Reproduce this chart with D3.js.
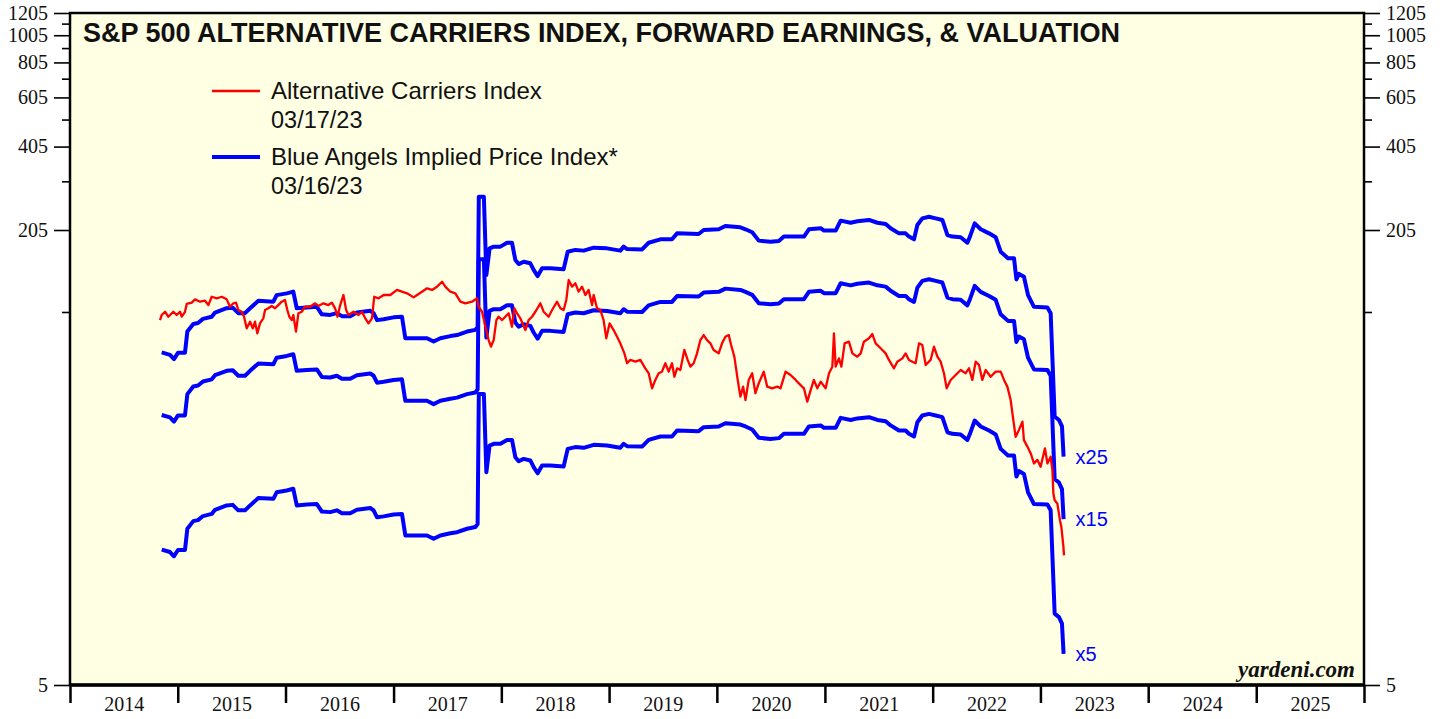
<!DOCTYPE html>
<html><head><meta charset="utf-8">
<script src="https://cdn.jsdelivr.net/npm/d3@7"></script>
<style>body{margin:0;background:#fff;} svg{display:block;}</style>
</head><body><svg id="c" width="1446" height="719"></svg>
<script>
// ---- DATA ----
const redYears = [2014.835,2014.851,2014.882,2014.912,2014.959,2014.990,2015.021,2015.037,2015.067,2015.083,2015.130,2015.160,2015.207,2015.253,2015.284,2015.315,2015.362,2015.408,2015.454,2015.485,2015.516,2015.541,2015.562,2015.594,2015.615,2015.640,2015.671,2015.696,2015.717,2015.738,2015.763,2015.794,2015.810,2015.840,2015.872,2015.903,2015.933,2015.965,2015.995,2016.017,2016.035,2016.058,2016.072,2016.097,2016.119,2016.150,2016.181,2016.227,2016.274,2016.304,2016.351,2016.397,2016.429,2016.459,2016.481,2016.506,2016.536,2016.561,2016.583,2016.629,2016.676,2016.707,2016.738,2016.768,2016.800,2016.821,2016.861,2016.908,2016.970,2017.032,2017.078,2017.125,2017.186,2017.218,2017.264,2017.310,2017.357,2017.403,2017.450,2017.480,2017.527,2017.573,2017.620,2017.666,2017.728,2017.775,2017.789,2017.821,2017.852,2017.882,2017.904,2017.929,2017.954,2017.975,2018.007,2018.037,2018.068,2018.099,2018.121,2018.146,2018.176,2018.223,2018.253,2018.285,2018.316,2018.362,2018.393,2018.439,2018.471,2018.517,2018.548,2018.578,2018.603,2018.625,2018.656,2018.687,2018.717,2018.749,2018.780,2018.810,2018.842,2018.857,2018.888,2018.919,2018.949,2018.974,2019.005,2019.042,2019.074,2019.104,2019.142,2019.167,2019.197,2019.244,2019.290,2019.336,2019.367,2019.399,2019.429,2019.460,2019.491,2019.522,2019.553,2019.584,2019.606,2019.631,2019.661,2019.698,2019.729,2019.754,2019.785,2019.816,2019.847,2019.878,2019.909,2019.940,2019.970,2020.017,2020.048,2020.079,2020.110,2020.132,2020.162,2020.193,2020.218,2020.243,2020.265,2020.295,2020.327,2020.357,2020.388,2020.434,2020.466,2020.512,2020.559,2020.589,2020.636,2020.682,2020.729,2020.775,2020.806,2020.837,2020.868,2020.898,2020.930,2020.961,2021.007,2021.038,2021.069,2021.084,2021.100,2021.130,2021.153,2021.183,2021.223,2021.255,2021.301,2021.332,2021.362,2021.409,2021.440,2021.471,2021.517,2021.564,2021.594,2021.641,2021.672,2021.719,2021.749,2021.780,2021.812,2021.842,2021.873,2021.904,2021.935,2021.981,2022.012,2022.044,2022.074,2022.105,2022.130,2022.167,2022.213,2022.260,2022.306,2022.337,2022.368,2022.399,2022.430,2022.461,2022.492,2022.538,2022.585,2022.631,2022.662,2022.693,2022.724,2022.740,2022.770,2022.801,2022.833,2022.847,2022.879,2022.910,2022.940,2022.972,2023.002,2023.042,2023.065,2023.095,2023.111,2023.120,2023.132,2023.157,2023.181,2023.194,2023.213,2023.219];
const redValues = [98.3,102.4,105.2,101.0,105.2,102.4,105.2,101.0,105.2,112.1,113.3,116.4,114.2,115.1,111.1,118.9,117.4,118.9,116.4,109.6,112.7,113.3,106.7,105.2,101.0,91.9,97.0,91.9,97.0,88.2,95.7,99.7,106.7,108.2,110.3,108.2,111.1,114.2,115.8,106.7,101.0,98.3,102.4,89.4,103.9,105.2,109.6,109.6,112.7,110.3,112.7,111.1,113.3,108.2,101.0,111.1,120.6,106.7,102.4,105.2,102.4,105.2,99.7,95.7,99.7,118.9,117.4,120.6,120.6,125.7,123.9,122.3,118.3,120.6,123.9,127.4,125.7,129.1,134.4,129.1,123.9,122.3,114.2,112.7,114.2,117.4,109.6,105.2,93.1,83.5,79.1,83.5,98.3,101.0,98.3,101.0,103.9,93.1,108.2,103.9,99.7,90.6,98.3,101.0,105.2,112.7,105.2,101.0,106.7,114.2,108.2,106.7,115.8,136.3,129.1,132.7,123.9,129.1,120.6,125.7,111.1,120.6,108.2,106.7,98.3,84.7,95.7,90.6,85.8,81.3,74.9,69.1,71.0,70.0,71.0,66.3,63.7,56.3,60.3,63.7,64.5,69.1,64.5,69.1,61.9,66.3,65.4,77.0,71.0,67.2,69.1,74.9,83.5,87.0,83.5,81.3,77.0,74.9,81.3,85.8,87.0,80.2,72.9,60.3,52.6,57.1,51.2,60.3,63.7,54.1,58.7,64.5,57.1,56.3,57.1,56.3,64.5,62.8,60.3,57.8,56.3,50.5,55.5,60.3,56.3,59.4,56.3,63.7,67.2,88.2,67.2,71.9,67.2,81.3,82.4,74.9,72.9,74.9,82.4,84.7,87.7,81.3,78.1,74.9,71.0,66.3,70.0,71.9,74.9,71.0,70.0,69.1,81.3,80.2,68.1,71.0,79.1,72.9,70.0,63.7,56.3,60.3,62.8,65.4,63.7,66.3,60.3,70.0,68.1,60.3,65.4,61.9,64.5,64.5,60.3,57.1,51.2,45.9,37.9,40.1,42.9,36.9,35.0,33.1,30.5,31.4,29.7,34.5,30.5,32.2,28.9,23.9,22.6,22.0,19.2,18.2,15.5,14.4];

// forward earnings per share (index points)
const earnYears = [2014.851,2014.928,2014.965,2015.002,2015.067,2015.089,2015.144,2015.188,2015.234,2015.315,2015.346,2015.454,2015.510,2015.562,2015.624,2015.671,2015.748,2015.887,2015.918,2016.011,2016.072,2016.104,2016.197,2016.290,2016.336,2016.413,2016.475,2016.522,2016.599,2016.661,2016.784,2016.815,2016.847,2016.908,2017.000,2017.078,2017.109,2017.218,2017.310,2017.372,2017.434,2017.527,2017.589,2017.682,2017.759,2017.780,2017.791,2017.838,2017.861,2017.891,2017.929,2017.991,2018.053,2018.099,2018.130,2018.161,2018.207,2018.269,2018.300,2018.337,2018.378,2018.455,2018.578,2018.616,2018.687,2018.764,2018.857,2018.981,2019.104,2019.135,2019.167,2019.306,2019.367,2019.476,2019.584,2019.631,2019.831,2019.878,2020.017,2020.079,2020.218,2020.265,2020.327,2020.388,2020.497,2020.574,2020.620,2020.806,2020.852,2020.961,2020.991,2021.100,2021.146,2021.239,2021.301,2021.409,2021.487,2021.564,2021.610,2021.687,2021.749,2021.780,2021.827,2021.858,2021.904,2021.966,2022.028,2022.090,2022.137,2022.183,2022.260,2022.322,2022.346,2022.390,2022.446,2022.523,2022.585,2022.631,2022.699,2022.755,2022.777,2022.801,2022.847,2022.885,2022.940,2023.065,2023.095,2023.132,2023.172,2023.200,2023.215];
const earnValues = [3.02,2.96,2.86,3.01,3.01,3.58,3.81,3.84,3.97,4.04,4.18,4.33,4.35,4.16,4.16,4.33,4.60,4.57,4.82,4.89,4.96,4.33,4.36,4.38,4.12,4.10,4.16,4.06,4.06,4.18,4.24,4.16,3.93,3.96,4.02,4.04,3.39,3.39,3.39,3.30,3.39,3.45,3.48,3.58,3.63,3.72,10.76,10.76,5.68,7.06,7.16,7.16,7.39,7.39,6.42,6.21,6.33,6.25,5.92,5.63,6.00,6.00,5.95,6.87,6.97,6.93,7.10,7.06,6.93,7.16,7.02,7.00,7.39,7.60,7.60,7.98,7.94,8.20,8.25,8.47,8.38,8.25,8.05,7.52,7.45,7.50,7.77,7.77,8.25,8.32,8.16,8.16,8.85,8.70,8.81,8.90,8.70,8.61,8.32,7.98,7.98,7.77,7.60,8.54,9.02,9.14,9.02,8.90,7.87,7.77,7.73,7.39,7.77,8.66,8.25,7.98,7.73,6.87,6.51,6.51,5.48,5.73,5.60,4.82,4.38,4.36,4.16,1.79,1.74,1.65,1.29];

const multiples = [25, 15, 5];
const multipleLabels = ["x25", "x15", "x5"];
const yearLabels = [2014,2015,2016,2017,2018,2019,2020,2021,2022,2023,2024,2025];
const yTicks = [5,105,205,305,405,505,605,705,805,905,1005,1105,1205];
const yLabeled = [5,205,405,605,805,1005,1205];
const titleText = "S&P 500 ALTERNATIVE CARRIERS INDEX, FORWARD EARNINGS, & VALUATION";
const legendNames = ["Alternative Carriers Index", "Blue Angels Implied Price Index*"];
const legendDates = ["03/17/23", "03/16/23"];
const sourceText = "yardeni.com";

// ---- CHART ----
function yearToDate(t){
  const yr = Math.floor(t);
  const s = new Date(yr,0,1).getTime(), e = new Date(yr+1,0,1).getTime();
  return new Date(s + (t-yr)*(e-s));
}
const L=70, R=1364, T=13, B=685;
const RED="#ff0000", BLUE="#0000ff";
const svg = d3.select("#c");
const x = d3.scaleTime().domain([new Date(2014,0,1), new Date(2026,0,1)]).range([L,R]);
const y = d3.scaleLog().domain([5,1205]).range([B,T]);

svg.append("rect").attr("x",L).attr("y",T).attr("width",R-L).attr("height",B-T).attr("fill","#ffffe3");
svg.append("clipPath").attr("id","clip").append("rect").attr("x",L).attr("y",T).attr("width",R-L).attr("height",B-T);
const plot = svg.append("g").attr("clip-path","url(#clip)");

const redData = redYears.map((t,i)=>({d:yearToDate(t), v:redValues[i]}));
const earnData = earnYears.map((t,i)=>({d:yearToDate(t), v:earnValues[i]}));

multiples.forEach((m,k)=>{
  const line = d3.line().x(p=>x(p.d)).y(p=>y(p.v*m));
  plot.append("path").datum(earnData).attr("d",line).attr("fill","none")
    .attr("stroke",BLUE).attr("stroke-width",4).attr("stroke-linejoin","round");
  const last = earnData[earnData.length-1];
  svg.append("text").attr("x",x(last.d)+12).attr("y",y(last.v*m)).attr("dy","0.35em")
    .attr("font-family","Liberation Sans, Arial, sans-serif").attr("font-size",20)
    .attr("fill",BLUE).text(multipleLabels[k]);
});
plot.append("path").datum(redData)
  .attr("d", d3.line().x(p=>x(p.d)).y(p=>y(p.v)))
  .attr("fill","none").attr("stroke",RED).attr("stroke-width",2.3).attr("stroke-linejoin","round");

// frame
svg.append("rect").attr("x",L).attr("y",T).attr("width",R-L).attr("height",B-T)
  .attr("fill","none").attr("stroke","#000").attr("stroke-width",2.5);
svg.append("line").attr("x1",L).attr("x2",R).attr("y1",B).attr("y2",B).attr("stroke","#000").attr("stroke-width",3.5);

// y axes
const fmt = d => yLabeled.includes(d) ? String(d) : "";
function styleY(g, side){
  g.select(".domain").remove();
  g.selectAll(".tick line").attr("stroke","#000").attr("stroke-width",1.6)
    .attr("x2", d => (yLabeled.includes(d) ? 16 : 8) * side);
  g.selectAll(".tick text").attr("x", 22*side).attr("fill","#111")
    .attr("font-family","Liberation Serif, Times New Roman, serif").attr("font-size",20);
}
svg.append("g").attr("transform",`translate(${L},0)`)
  .call(d3.axisLeft(y).tickValues(yTicks).tickFormat(fmt).tickSizeOuter(0))
  .call(g=>styleY(g,-1));
svg.append("g").attr("transform",`translate(${R},0)`)
  .call(d3.axisRight(y).tickValues(yTicks).tickFormat(fmt).tickSizeOuter(0))
  .call(g=>styleY(g,1));

// x axis: year boundary ticks + centered labels
const yearBounds = d3.range(2014,2027).map(yr=>new Date(yr,0,1));
svg.append("g").attr("transform",`translate(0,${B})`)
  .call(d3.axisBottom(x).tickValues(yearBounds).tickFormat("").tickSize(18).tickSizeOuter(0))
  .call(g=>{g.select(".domain").remove(); g.selectAll(".tick line").attr("stroke","#000").attr("stroke-width",2.5);});
svg.append("g").attr("transform",`translate(0,${B})`)
  .call(d3.axisBottom(x).tickValues(yearLabels.map(yr=>new Date(yr,6,2))).tickFormat(d=>d.getFullYear()).tickSize(0).tickPadding(12))
  .call(g=>{g.select(".domain").remove();
    g.selectAll(".tick text").attr("fill","#111").attr("font-family","Liberation Serif, Times New Roman, serif").attr("font-size",20);});

// title
svg.append("text").attr("x",83).attr("y",42).attr("font-family","Liberation Sans, Arial, sans-serif")
  .attr("font-weight","bold").attr("font-size",27).attr("fill","#111").text(titleText);

// legend
const legColors=[RED,BLUE], legWidths=[2.3,4], legY=[91,157];
legendNames.forEach((n,i)=>{
  svg.append("line").attr("x1",212).attr("x2",260).attr("y1",legY[i]).attr("y2",legY[i])
    .attr("stroke",legColors[i]).attr("stroke-width",legWidths[i]);
  svg.append("text").attr("x",271).attr("y",legY[i]+8).attr("font-family","Liberation Sans, Arial, sans-serif")
    .attr("font-size",24).attr("fill","#111").text(n);
  svg.append("text").attr("x",271).attr("y",legY[i]+37).attr("font-family","Liberation Sans, Arial, sans-serif")
    .attr("font-size",23.5).attr("fill","#111").text(legendDates[i]);
});

// source
svg.append("text").attr("x",1355).attr("y",677).attr("text-anchor","end")
  .attr("font-family","Liberation Serif, Times New Roman, serif").attr("font-weight","bold")
  .attr("font-style","italic").attr("font-size",23).attr("fill","#111").text(sourceText);
</script>
</body></html>
